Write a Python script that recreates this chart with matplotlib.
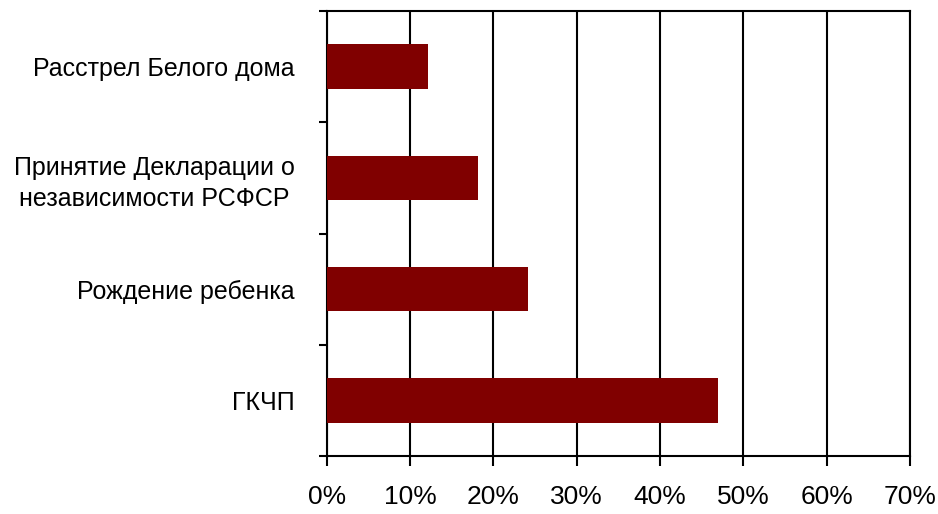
import numpy as np
import matplotlib
matplotlib.use('Agg')
import matplotlib.pyplot as plt
from matplotlib.ticker import FixedLocator, PercentFormatter

# events, top to bottom as in the reference
events = ['Расстрел Белого дома',
          'Принятие Декларации о\nнезависимости РСФСР',
          'Рождение ребенка',
          'ГКЧП']
shares = [12.2, 18.1, 24.1, 47.0]
x_ticks = [0, 10, 20, 30, 40, 50, 60, 70]

plt.rcParams['font.family'] = ['Liberation Sans', 'DejaVu Sans']

fig = plt.figure(figsize=(9.38, 5.14), dpi=100)
ax = fig.add_axes([0.3483, 0.1128, 0.9701 - 0.3483, 0.9786 - 0.1128])

y = np.arange(len(events))
ax.barh(y, shares, height=0.4, color='#800000', zorder=3)

ax.set_xlim(0, 70)
ax.set_ylim(len(events) - 0.5, -0.5)

ax.set_xticks(x_ticks)
ax.xaxis.set_major_formatter(PercentFormatter(decimals=0))
ax.grid(axis='x', color='black', linewidth=1.5, zorder=1)

# labels at bar centres, tick marks at category boundaries
ax.set_yticks(y)
ax.set_yticklabels(events, multialignment='center', linespacing=1.35)
ax.yaxis.set_minor_locator(FixedLocator(np.arange(len(events) + 1) - 0.5))
ax.tick_params(axis='y', which='major', length=0, pad=23, labelsize=18)
ax.tick_params(axis='y', which='minor', length=6, width=1.5, color='black')
ax.tick_params(axis='x', length=7, width=1.5, pad=14, labelsize=19)

for s in ax.spines.values():
    s.set_linewidth(1.5)
    s.set_color('black')

fig.savefig('out.png', dpi=100)
